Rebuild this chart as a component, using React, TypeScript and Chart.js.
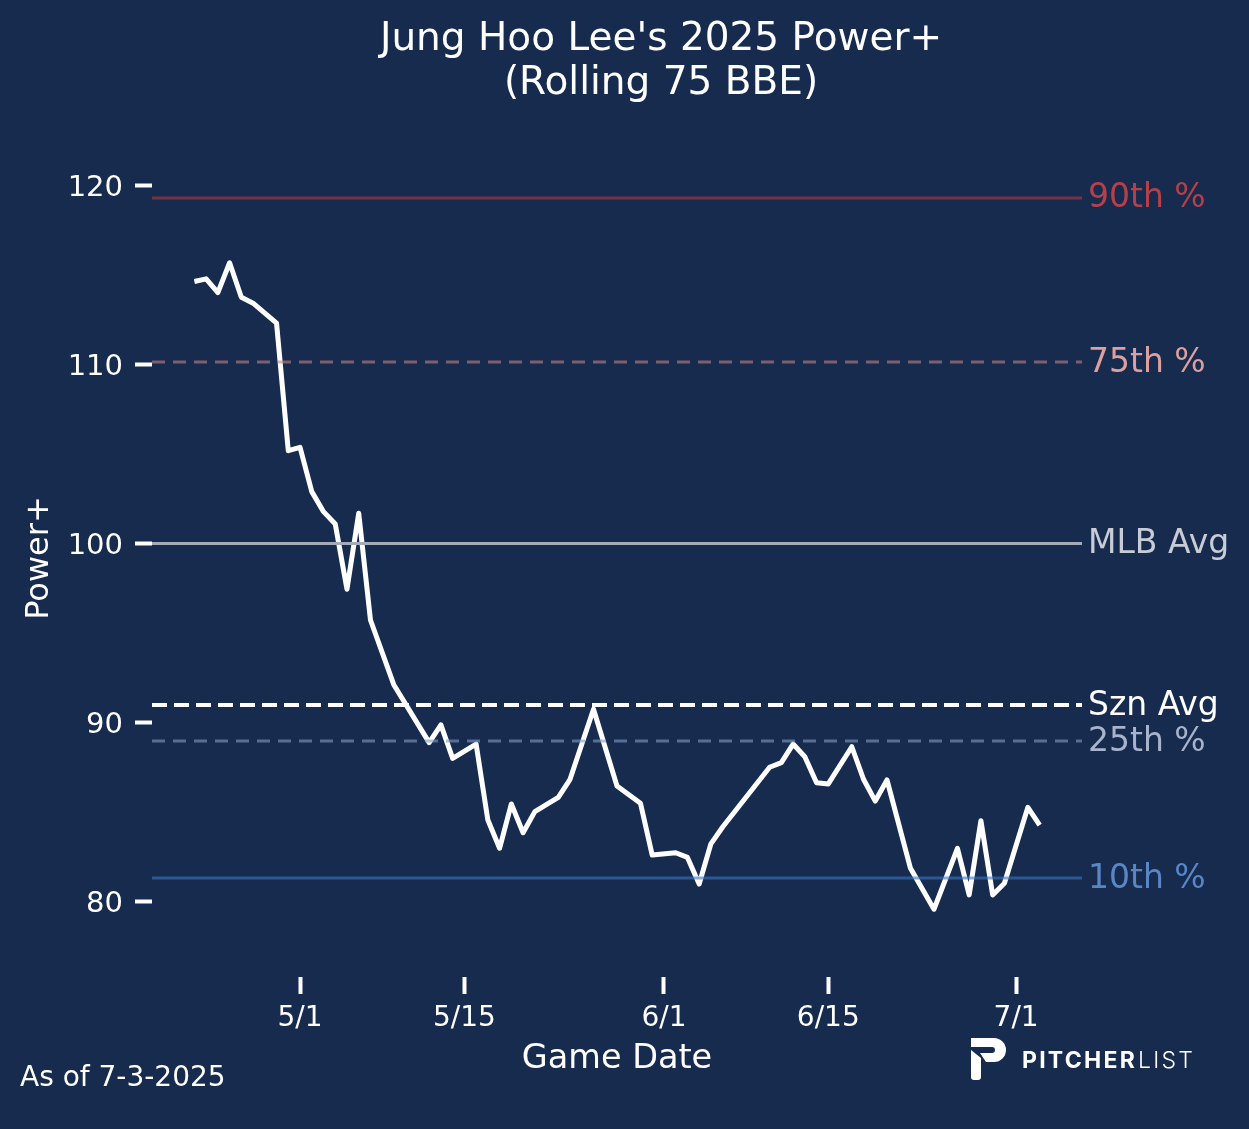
import { useEffect, useRef } from "react"
import { Chart, registerables } from "chart.js"

Chart.register(...registerables)

// game dates (M/D, 2025) and rolling 75 BBE Power+
const gameDates = [
  "4/22", "4/23", "4/24", "4/25", "4/26", "4/27", "4/29", "4/30",
  "5/1", "5/2", "5/3", "5/4", "5/5", "5/6", "5/7", "5/9", "5/12", "5/13", "5/14",
  "5/16", "5/17", "5/18", "5/19", "5/20", "5/21", "5/23", "5/24", "5/26", "5/28",
  "5/30", "5/31", "6/2", "6/3", "6/4", "6/5", "6/6", "6/10", "6/11", "6/12", "6/13",
  "6/14", "6/15", "6/17", "6/18", "6/19", "6/20", "6/22", "6/24", "6/26", "6/27",
  "6/28", "6/29", "6/30", "7/2", "7/3",
]
const powerPlus = [
  114.65, 114.8, 114.03, 115.7, 113.77, 113.44, 112.32, 105.19,
  105.38, 102.9, 101.78, 101.09, 97.44, 101.69, 95.72, 92.08, 88.86, 89.85, 87.98,
  88.78, 84.53, 82.95, 85.43, 83.82, 85.0, 85.8, 86.81, 90.73, 86.43,
  85.47, 82.57, 82.7, 82.44, 80.95, 83.2, 84.14, 87.48, 87.74, 88.78, 88.07,
  86.62, 86.55, 88.63, 86.81, 85.59, 86.77, 81.83, 79.54, 82.95, 80.34,
  84.49, 80.34, 80.99, 85.24, 84.25,
]

const xTickLabels = ["5/1", "5/15", "6/1", "6/15", "7/1"]
const yTickValues = [80, 90, 100, 110, 120]

const refLabels = ["90th %", "75th %", "MLB Avg", "Szn Avg", "25th %", "10th %"]
const refValues = [119.33, 110.15, 100, 90.96, 88.95, 81.29]

// styles
const BG = "#172b4f"
const FONT = "'DejaVu Sans'"
const refLineColors = [
  "rgba(188,51,54,0.6)",
  "rgba(193,131,134,0.6)",
  "#a3aab8",
  "#ffffff",
  "rgba(131,155,194,0.6)",
  "rgba(55,116,199,0.6)",
]
const refTextColors = ["#b5404a", "#dca0a0", "#c8ccd6", "#ffffff", "#a8b4cc", "#5b86c6"]
const refDashes = [[], [13, 8], [], [15, 7], [13, 8], []]
const refWidths = [3, 3, 3, 4, 3, 3]

const toDay = (md: string) => {
  const [m, d] = md.split("/").map(Number)
  return (Date.UTC(2025, m - 1, d) - Date.UTC(2025, 0, 1)) / 86400000 + 1
}

const X_MIN = toDay("5/1") - 12.61
const X_MAX = toDay("5/1") + 66.61
const Y_MIN = 75.75
const Y_MAX = 122.4

const textPlugin = {
  id: "texts",
  beforeDraw(chart: Chart) {
    const { ctx, width, height } = chart
    ctx.save()
    ctx.fillStyle = BG
    ctx.fillRect(0, 0, width, height)
    ctx.restore()
  },
  afterDraw(chart: Chart) {
    const { ctx } = chart
    const y = chart.scales.y
    ctx.save()
    ctx.fillStyle = "#fff"
    ctx.textAlign = "center"
    ctx.textBaseline = "middle"
    ctx.font = `39px ${FONT}`
    ctx.fillText("Jung Hoo Lee's 2025 Power+", 661, 40)
    ctx.fillText("(Rolling 75 BBE)", 661, 84)

    ctx.font = `33.5px ${FONT}`
    ctx.fillText("Game Date", 617, 1059)

    ctx.save()
    ctx.translate(40, 558)
    ctx.rotate(-Math.PI / 2)
    ctx.font = `32px ${FONT}`
    ctx.fillText("Power+", 0, 0)
    ctx.restore()

    ctx.textAlign = "left"
    ctx.font = `28px ${FONT}`
    ctx.fillText("As of 7-3-2025", 20, 1079)

    ctx.font = `33px ${FONT}`
    refLabels.forEach((label, i) => {
      ctx.fillStyle = refTextColors[i]
      ctx.fillText(label, 1088, y.getPixelForValue(refValues[i]) + 1)
    })

    // Pitcher List mark
    ctx.fillStyle = "#fff"
    ctx.beginPath()
    ctx.moveTo(971, 1038)
    ctx.lineTo(994, 1038)
    ctx.arc(994, 1050, 12, -Math.PI / 2, Math.PI / 2)
    ctx.lineTo(986, 1062)
    ctx.lineTo(980, 1053)
    ctx.lineTo(992, 1053)
    ctx.arc(992, 1050, 3, Math.PI / 2, -Math.PI / 2, true)
    ctx.lineTo(971, 1047)
    ctx.closePath()
    ctx.fill()
    ctx.beginPath()
    ctx.moveTo(971, 1050)
    ctx.lineTo(981, 1058)
    ctx.lineTo(981, 1077)
    ctx.quadraticCurveTo(981, 1080, 978, 1080)
    ctx.lineTo(974, 1080)
    ctx.quadraticCurveTo(971, 1080, 971, 1077)
    ctx.closePath()
    ctx.fill()

    ctx.textBaseline = "alphabetic"
    ctx.font = "bold 23px Inter"
    const w1 = ctx.measureText("PITCHER").width
    ;(ctx as any).letterSpacing = `${(115 - w1) / 7}px`
    ctx.fillText("PITCHER", 1022, 1068)
    ctx.font = "300 23px Inter"
    ;(ctx as any).letterSpacing = "0px"
    const w2 = ctx.measureText("LIST").width
    ;(ctx as any).letterSpacing = `${(57 - w2) / 4}px`
    ctx.fillText("LIST", 1138, 1068)
    ctx.restore()
  },
}

export default function App() {
  const chartRef = useRef<HTMLCanvasElement>(null)
  const chartInstance = useRef<Chart | null>(null)

  useEffect(() => {
    if (!chartRef.current) return
    document.body.style.margin = "0"
    document.body.style.background = BG

    if (chartInstance.current) {
      chartInstance.current.destroy()
    }

    const xTickDays = xTickLabels.map(toDay)

    const refSets = refValues.map((v, i) => ({
      label: refLabels[i],
      data: [
        { x: X_MIN, y: v },
        { x: X_MAX, y: v },
      ],
      borderColor: refLineColors[i],
      borderWidth: refWidths[i],
      borderDash: refDashes[i],
      pointRadius: 0,
      order: 0,
    }))

    const ctx = chartRef.current.getContext("2d")
    if (ctx) {
      chartInstance.current = new Chart(ctx, {
        type: "line",
        data: {
          datasets: [
            {
              label: "Power+",
              data: gameDates.map((d, i) => ({ x: toDay(d), y: powerPlus[i] })),
              borderColor: "#ffffff",
              borderWidth: 5,
              borderJoinStyle: "round",
              pointRadius: 0,
              tension: 0,
              order: 1,
            },
            ...refSets,
          ],
        },
        options: {
          responsive: true,
          maintainAspectRatio: false,
          animation: false,
          layout: { padding: { left: 0, top: 143, right: 167, bottom: 0 } },
          plugins: {
            legend: { display: false },
            tooltip: { enabled: false },
          },
          scales: {
            x: {
              type: "linear",
              min: X_MIN,
              max: X_MAX,
              bounds: "data",
              afterBuildTicks: (s: any) => {
                s.ticks = xTickDays.map((v) => ({ value: v }))
              },
              afterFit: (s: any) => {
                s.height = 152
              },
              ticks: {
                callback: (_v: any, i: number) => xTickLabels[i],
                color: "#fff",
                font: { family: FONT, size: 28 },
                padding: 8,
                maxRotation: 0,
                autoSkip: false,
              },
              grid: {
                drawOnChartArea: false,
                drawTicks: true,
                tickLength: 17,
                tickWidth: 4,
                tickColor: "#fff",
              },
              border: { display: false },
            },
            y: {
              type: "linear",
              min: Y_MIN,
              max: Y_MAX,
              bounds: "data",
              afterBuildTicks: (s: any) => {
                s.ticks = yTickValues.map((v) => ({ value: v }))
              },
              afterFit: (s: any) => {
                s.width = 152
              },
              ticks: {
                callback: (_v: any, i: number) => String(yTickValues[i]),
                color: "#fff",
                font: { family: FONT, size: 29 },
                padding: 12,
                labelOffset: 3,
                autoSkip: false,
              },
              grid: {
                drawOnChartArea: false,
                drawTicks: true,
                tickLength: 17,
                tickWidth: 4,
                tickColor: "#fff",
              },
              border: { display: false },
            },
          },
        },
        plugins: [textPlugin],
      })
    }

    return () => {
      if (chartInstance.current) {
        chartInstance.current.destroy()
        chartInstance.current = null
      }
    }
  }, [])

  return (
    <div style={{ width: 1249, height: 1129, background: BG }}>
      <canvas ref={chartRef}></canvas>
    </div>
  )
}
